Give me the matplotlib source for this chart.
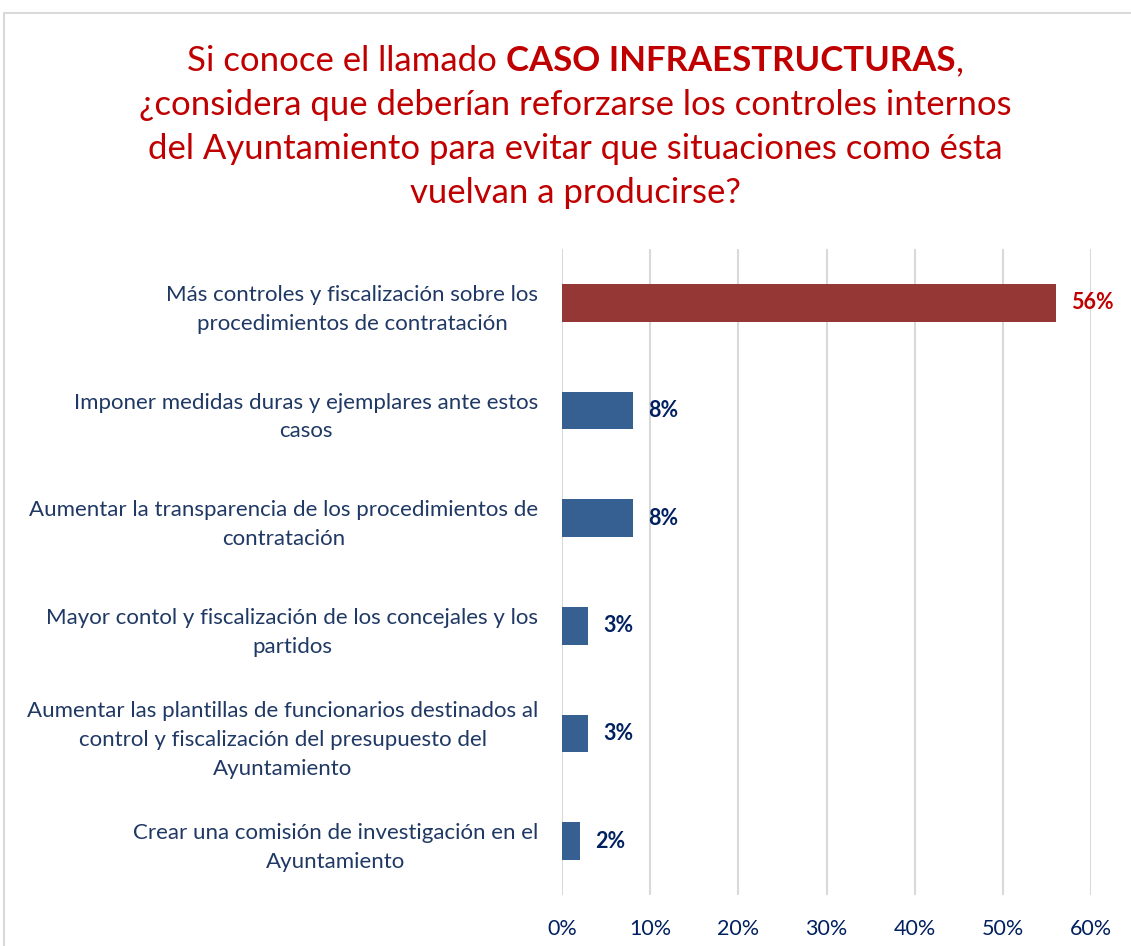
import matplotlib
matplotlib.use('Agg')
import matplotlib.pyplot as plt
from matplotlib.patches import Rectangle

# data
categories = [
    'Más controles y fiscalización sobre los\nprocedimientos de contratación',
    'Imponer medidas duras y ejemplares ante estos\ncasos',
    'Aumentar la transparencia de los procedimientos de\ncontratación',
    'Mayor contol y fiscalización de los concejales y los\npartidos',
    'Aumentar las plantillas de funcionarios destinados al\ncontrol y fiscalización del presupuesto del\nAyuntamiento',
    'Crear una comisión de investigación en el\nAyuntamiento',
]
values = [56, 8, 8, 3, 3, 2]
xticks = [0, 10, 20, 30, 40, 50, 60]

bar_colors = ['#953735'] + ['#376092'] * 5
label_colors = ['#C00000'] + ['#002060'] * 5

plt.rcParams['font.family'] = ['Lato', 'DejaVu Sans']

W, H = 1131, 946
fig = plt.figure(figsize=(W / 100, H / 100), dpi=100)

# light frame of the chart area
fig.patches.append(Rectangle((4 / W, -0.1), 1.2, 1 - 13 / H + 0.1, transform=fig.transFigure,
                             fill=False, edgecolor='#D9D9D9', linewidth=1.5))

ax = fig.add_axes([562 / W, 51 / H, 529 / W, 646 / H])
ypos = list(range(len(values)))
ax.barh(ypos, values, height=0.35, color=bar_colors, zorder=3)
ax.set_ylim(len(values) - 0.5, -0.5)
ax.set_xlim(0, 60)
ax.set_xticks(xticks)
ax.set_xticklabels([f'{t}%' for t in xticks], fontsize=15.5, color='#002060')
ax.set_yticks(ypos)
ax.set_yticklabels(categories, fontsize=16, color='#1F3864', linespacing=1.55)
for lbl in ax.get_yticklabels():
    lbl.set_multialignment('center')
ax.tick_params(axis='both', length=0)
ax.tick_params(axis='x', pad=17)
ax.tick_params(axis='y', pad=17)
for s in ax.spines.values():
    s.set_visible(False)
ax.grid(axis='x', color='#D9D9D9', linewidth=1.5, zorder=0)
ax.set_axisbelow(True)

for y, v, c in zip(ypos, values, label_colors):
    ax.annotate(f'{v}%', (v, y), xytext=(11, 0), textcoords='offset points',
                ha='left', va='center', fontsize=15.5, fontweight='bold', color=c)

# title, first line has a bold part
red = '#C00000'
tsize = 25
cx = 575 / W
fig.canvas.draw()
r = fig.canvas.get_renderer()
parts = [('Si conoce el llamado ', 'normal'), ('CASO INFRAESTRUCTURAS', 'bold'), (',', 'normal')]
texts = []
for s, w in parts:
    t = fig.text(0, 1 - 61 / H, s, fontsize=tsize, fontweight=w, color=red, va='center', ha='left')
    texts.append(t)
widths = [t.get_window_extent(r).width / W for t in texts]
x = cx - sum(widths) / 2
for t, wd in zip(texts, widths):
    t.set_x(x)
    x += wd

rest = ['¿considera que deberían reforzarse los controles internos',
        'del Ayuntamiento para evitar que situaciones como ésta',
        'vuelvan a producirse?']
for i, s in enumerate(rest):
    fig.text(cx, 1 - (105 + 44 * i) / H, s, fontsize=tsize, color=red, ha='center', va='center')

fig.savefig('out.png', dpi=100)
